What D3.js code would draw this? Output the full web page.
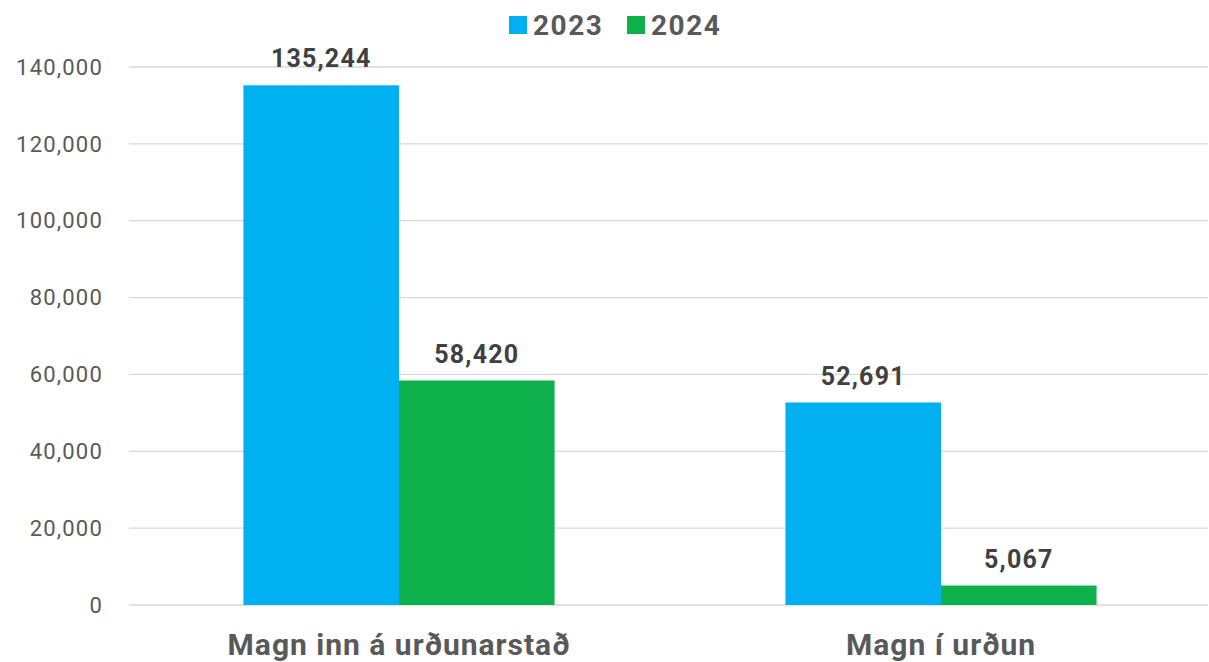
<!DOCTYPE html>
<html>
<head>
<meta charset="utf-8">
<script src="https://cdn.jsdelivr.net/npm/d3@7"></script>
<style>
  body { margin: 0; background: #fff; }
  svg { display: block; font-family: Roboto, "Noto Sans", sans-serif; }
</style>
</head>
<body>
<div id="chart"></div>
<script>
var categories = ["Magn inn á urðunarstað", "Magn í urðun"];
var seriesNames = ["2023", "2024"];
var values2023 = [135244, 52691];
var values2024 = [58420, 5067];
var yTicks = [0, 20000, 40000, 60000, 80000, 100000, 120000, 140000];
var colors = ["#00B0F0", "#0DB04B"];

(function () {
  var W = 1209, H = 662;
  var plotLeft = 129, plotRight = 1208, plotTop = 67, plotBottom = 605;

  var svg = d3.select("#chart").append("svg")
    .attr("width", W).attr("height", H);

  var x = d3.scaleBand().domain(categories).range([plotLeft - 1, plotRight + 4]);
  var y = d3.scaleLinear().domain([0, 140000]).range([plotBottom, plotTop]);
  // two bars side by side, gap on each side of the pair
  var inner = d3.scaleBand().domain(seriesNames).range([0, x.bandwidth()]).paddingOuter(0.742);

  var fmt = d3.format(",");

  // gridlines
  svg.append("g").selectAll("line").data(yTicks).enter().append("line")
    .attr("x1", plotLeft).attr("x2", plotRight)
    .attr("y1", function(d) { return y(d); }).attr("y2", function(d) { return y(d); })
    .style("stroke", "#D9D9D9").style("stroke-width", 1.3);

  // y axis labels
  svg.append("g").selectAll("text").data(yTicks).enter().append("text")
    .attr("x", 103).attr("y", function(d) { return y(d); })
    .attr("dy", "0.35em").attr("text-anchor", "end")
    .style("font-size", "22px").style("letter-spacing", "1.2px").style("fill", "#595959")
    .text(function(d) { return fmt(d); });

  var rows = [];
  categories.forEach(function(c, i) {
    rows.push({cat: c, s: "2023", v: values2023[i], color: colors[0]});
    rows.push({cat: c, s: "2024", v: values2024[i], color: colors[1]});
  });

  svg.append("g").selectAll("rect").data(rows).enter().append("rect")
    .attr("x", function(d) { return x(d.cat) + inner(d.s); })
    .attr("width", inner.bandwidth())
    .attr("y", function(d) { return y(d.v); })
    .attr("height", function(d) { return y(0) - y(d.v); })
    .style("fill", function(d) { return d.color; });

  // data labels
  svg.append("g").selectAll("text").data(rows).enter().append("text")
    .attr("x", function(d) { return x(d.cat) + inner(d.s) + inner.bandwidth() / 2; })
    .attr("y", function(d) { return y(d.v) - 18; })
    .attr("text-anchor", "middle")
    .style("font-size", "25px").style("letter-spacing", "1.2px")
    .style("font-weight", "bold").style("fill", "#404040")
    .text(function(d) { return fmt(d.v); });

  // category labels
  svg.append("g").selectAll("text").data(categories).enter().append("text")
    .attr("x", function(d) { return x(d) + x.bandwidth() / 2; })
    .attr("y", 655)
    .attr("text-anchor", "middle")
    .style("font-size", "30px").style("letter-spacing", "1px")
    .style("font-weight", "bold").style("fill", "#595959")
    .text(function(d) { return d; });

  // legend
  var legendX = [509, 627];
  var lg = svg.append("g").selectAll("g").data(seriesNames).enter().append("g")
    .attr("transform", function(d, i) { return "translate(" + legendX[i] + ",16)"; });
  lg.append("rect").attr("width", 18).attr("height", 18)
    .style("fill", function(d, i) { return colors[i]; });
  lg.append("text").attr("x", 24).attr("y", 9).attr("dy", "0.36em")
    .style("font-size", "28px").style("letter-spacing", "1.5px")
    .style("font-weight", "bold").style("fill", "#595959")
    .text(function(d) { return d; });
})();
</script>
</body>
</html>
